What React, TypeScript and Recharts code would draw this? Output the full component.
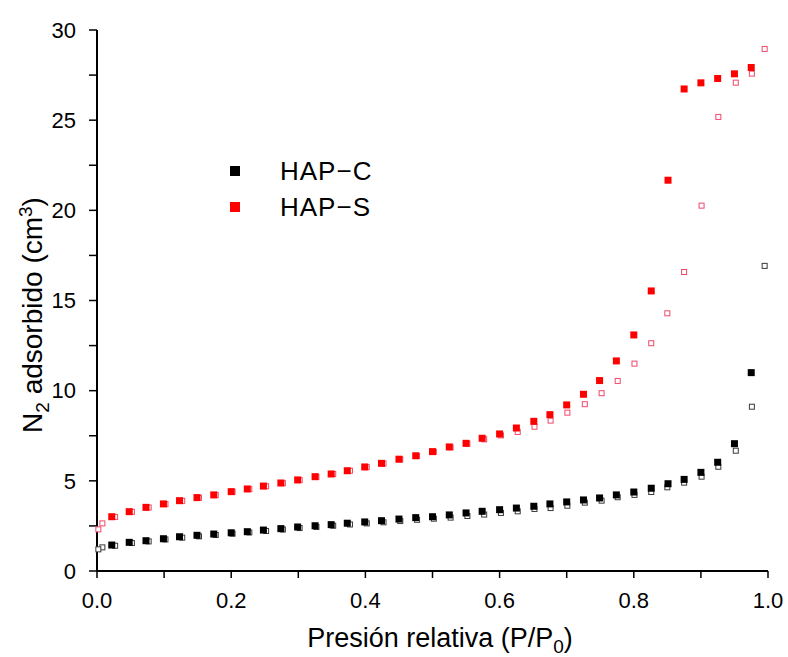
import React from 'react';
import { ScatterChart, Scatter, XAxis, YAxis } from 'recharts';

// Adsorption branch (filled symbols)
const adsPressure = [
  0.022, 0.048, 0.073, 0.099, 0.123, 0.149, 0.174, 0.2, 0.224, 0.248,
  0.274, 0.299, 0.325, 0.349, 0.373, 0.399, 0.424, 0.45, 0.475, 0.5,
  0.525, 0.55, 0.574, 0.6, 0.625, 0.651, 0.675, 0.7, 0.725, 0.749,
  0.774, 0.8, 0.826, 0.851, 0.875, 0.9, 0.925, 0.95, 0.975,
];
const hapCAds = [
  1.44, 1.59, 1.68, 1.79, 1.9, 1.98, 2.05, 2.12, 2.18, 2.27,
  2.35, 2.44, 2.51, 2.57, 2.65, 2.72, 2.79, 2.88, 2.96, 3.01,
  3.11, 3.22, 3.31, 3.4, 3.49, 3.59, 3.72, 3.83, 3.94, 4.05,
  4.22, 4.38, 4.59, 4.84, 5.08, 5.47, 6.03, 7.06, 11.0,
];
const hapSAds = [
  3.01, 3.29, 3.53, 3.72, 3.9, 4.07, 4.22, 4.4, 4.55, 4.71,
  4.88, 5.05, 5.23, 5.38, 5.56, 5.77, 5.97, 6.2, 6.39, 6.62,
  6.88, 7.08, 7.36, 7.6, 7.93, 8.3, 8.67, 9.21, 9.8, 10.56,
  11.65, 13.09, 15.53, 21.67, 26.73, 27.07, 27.31, 27.57, 27.92,
];

// Desorption branch (open symbols)
const desPressure = [
  0.995, 0.976, 0.952, 0.926, 0.901, 0.875, 0.85, 0.826, 0.801, 0.776,
  0.752, 0.727, 0.701, 0.676, 0.652, 0.627, 0.602, 0.577, 0.552, 0.527,
  0.502, 0.477, 0.452, 0.427, 0.402, 0.377, 0.352, 0.327, 0.302, 0.277,
  0.252, 0.227, 0.202, 0.177, 0.152, 0.127, 0.102, 0.077, 0.052, 0.027,
  0.008, 0.002,
];
const hapCDes = [
  16.92, 9.11, 6.67, 5.78, 5.23, 4.9, 4.64, 4.38, 4.22, 4.09,
  3.9, 3.79, 3.62, 3.49, 3.44, 3.31, 3.22, 3.13, 3.05, 2.96,
  2.9, 2.84, 2.77, 2.7, 2.64, 2.58, 2.51, 2.44, 2.38, 2.3,
  2.22, 2.14, 2.07, 2.0, 1.92, 1.85, 1.75, 1.64, 1.55, 1.4,
  1.31, 1.2,
];
const hapSDes = [
  28.95, 27.58, 27.08, 25.18, 20.26, 16.58, 14.29, 12.63, 11.5, 10.54,
  9.86, 9.25, 8.78, 8.34, 8.0, 7.71, 7.52, 7.3, 7.06, 6.86,
  6.61, 6.38, 6.19, 5.96, 5.76, 5.56, 5.38, 5.22, 5.04, 4.87,
  4.7, 4.54, 4.39, 4.21, 4.06, 3.89, 3.71, 3.52, 3.28, 3.0,
  2.64, 2.31,
];

const xTicks = [0, 0.1, 0.2, 0.3, 0.4, 0.5, 0.6, 0.7, 0.8, 0.9, 1.0];
const yTicks = [0, 2.5, 5, 7.5, 10, 12.5, 15, 17.5, 20, 22.5, 25, 27.5, 30];

const FONT = '"Liberation Sans", Arial, sans-serif';
const RED = '#ff0000';
const RED_OPEN = '#f0486a';
const BLACK = '#000000';
const BLACK_OPEN = '#3a3a3a';

const zip = (xs: number[], ys: number[]) => xs.map((p, i) => ({ p, v: ys[i] }));

const isMajor = (v: number, step: number) => Math.abs(v / step - Math.round(v / step)) < 1e-6;

// minor ticks keep their mark but get no label
const xLabel = (v: number) => (isMajor(v, 0.2) ? v.toFixed(1) : '');
const yLabel = (v: number) => (isMajor(v, 5) ? String(v) : '');

function filledSquare(color: string) {
  return (props: any) => (
    <rect x={props.cx - 3.5} y={props.cy - 3.5} width={7} height={7} fill={color} />
  );
}

function openSquare(color: string) {
  return (props: any) => (
    <rect
      x={props.cx - 2.5}
      y={props.cy - 2.5}
      width={5}
      height={5}
      fill="#fff"
      stroke={color}
      strokeWidth={1}
    />
  );
}

const legendItems = [
  { name: 'HAP−C', color: BLACK },
  { name: 'HAP−S', color: RED },
];

function LegendBox() {
  return (
    <div style={{ position: 'absolute', left: 230, top: 153, fontFamily: FONT }}>
      {legendItems.map((item) => (
        <div key={item.name} style={{ display: 'flex', alignItems: 'center', height: 36 }}>
          <span style={{ width: 10, height: 10, background: item.color, marginRight: 40 }} />
          <span style={{ fontSize: 26, letterSpacing: 1 }}>{item.name}</span>
        </div>
      ))}
    </div>
  );
}

const subStyle: React.CSSProperties = { fontSize: 19, lineHeight: 0 };

function AxisTitles() {
  return (
    <>
      <div
        style={{
          position: 'absolute',
          left: 440,
          top: 625,
          transform: 'translateX(-50%)',
          whiteSpace: 'nowrap',
          fontFamily: FONT,
          fontSize: 27,
          lineHeight: '27px',
        }}
      >
        Presión relativa (P/P<sub style={subStyle}>0</sub>)
      </div>
      <div
        style={{
          position: 'absolute',
          left: 33,
          top: 315,
          transform: 'translate(-50%, -50%) rotate(-90deg)',
          whiteSpace: 'nowrap',
          fontFamily: FONT,
          fontSize: 28,
          lineHeight: '28px',
        }}
      >
        N<sub style={subStyle}>2</sub> adsorbido (cm<sup style={subStyle}>3</sup>)
      </div>
    </>
  );
}

export default function App() {
  const tickStyle = { fontSize: 22, fontFamily: FONT, fill: '#000' };
  return (
    <div style={{ position: 'absolute', left: 0, top: 0, width: 788, height: 657, background: '#fff' }}>
      <ScatterChart width={788} height={657} margin={{ top: 30, right: 20, bottom: 0, left: 0 }}>
        <XAxis
          type="number"
          dataKey="p"
          domain={[0, 1]}
          ticks={xTicks}
          tickFormatter={xLabel}
          tick={tickStyle}
          tickSize={7}
          tickMargin={14}
          tickLine={{ stroke: '#000', strokeWidth: 1.5 }}
          axisLine={{ stroke: '#000', strokeWidth: 2 }}
          height={86}
        />
        <YAxis
          type="number"
          dataKey="v"
          domain={[0, 30]}
          ticks={yTicks}
          tickFormatter={yLabel}
          tick={tickStyle}
          tickSize={8}
          tickMargin={13}
          tickLine={{ stroke: '#000', strokeWidth: 1.5 }}
          axisLine={{ stroke: '#000', strokeWidth: 2 }}
          width={97}
        />
        <Scatter name="HAP-C des" data={zip(desPressure, hapCDes)} shape={openSquare(BLACK_OPEN)} isAnimationActive={false} />
        <Scatter name="HAP-S des" data={zip(desPressure, hapSDes)} shape={openSquare(RED_OPEN)} isAnimationActive={false} />
        <Scatter name="HAP-C" data={zip(adsPressure, hapCAds)} shape={filledSquare(BLACK)} isAnimationActive={false} />
        <Scatter name="HAP-S" data={zip(adsPressure, hapSAds)} shape={filledSquare(RED)} isAnimationActive={false} />
      </ScatterChart>
      <AxisTitles />
      <LegendBox />
    </div>
  );
}
